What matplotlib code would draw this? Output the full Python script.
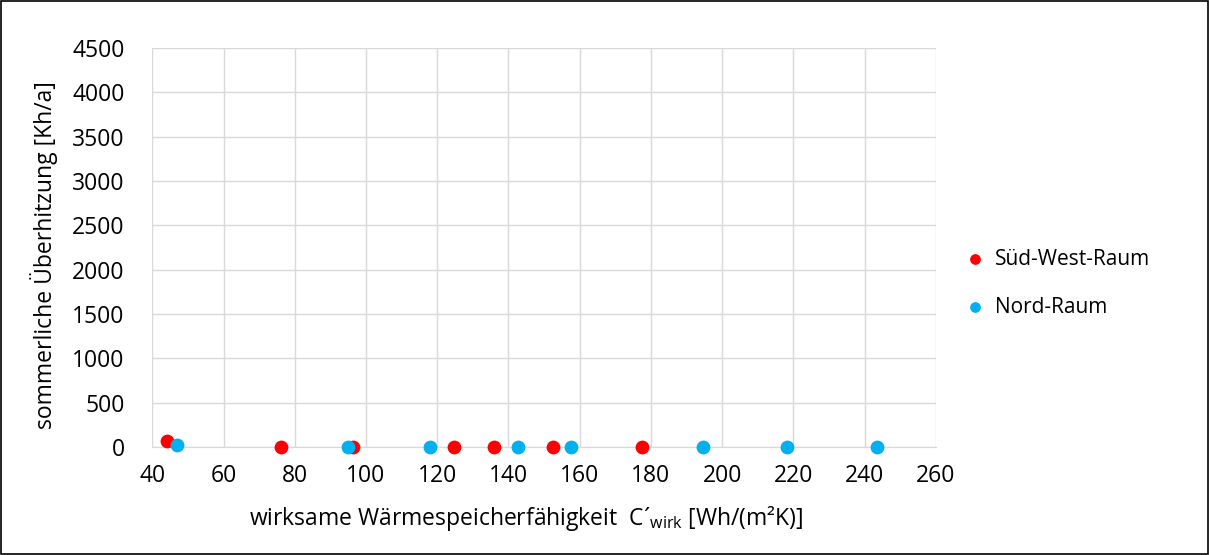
import matplotlib.pyplot as plt
from matplotlib import ticker

plt.rcParams['font.family'] = ['Open Sans', 'DejaVu Sans']
plt.rcParams['mathtext.fontset'] = 'custom'
plt.rcParams['mathtext.rm'] = 'Open Sans'

# Süd-West-Raum
sw_x = [44, 76, 96.3, 124.8, 136, 152.6, 177.6]
sw_y = [70, 0, 0, 0, 0, 0, 0]

# Nord-Raum
nord_x = [47, 95, 118, 142.6, 157.7, 194.7, 218.3, 243.4]
nord_y = [20, 0, 0, 0, 0, 0, 0, 0]

fig = plt.figure(figsize=(12.09, 5.55), dpi=100)
ax = fig.add_axes([0.126, 0.1946, 0.648, 0.719])

ax.scatter(sw_x, sw_y, s=80, color="#FF0000", label="Süd-West-Raum", zorder=3, clip_on=False)
ax.scatter(nord_x, nord_y, s=80, color="#00B0F0", label="Nord-Raum", zorder=3, clip_on=False)

ax.set_xlim(40, 260)
ax.set_ylim(0, 4500)
ax.xaxis.set_major_locator(ticker.MultipleLocator(20))
ax.yaxis.set_major_locator(ticker.MultipleLocator(500))
ax.grid(color="#D9D9D9", linewidth=1.0)
ax.set_axisbelow(True)
for s in ["top", "right", "left"]:
    ax.spines[s].set_visible(False)
ax.spines["bottom"].set_color("#D9D9D9")
ax.tick_params(length=0, labelsize=16.5, colors="#000000")
ax.tick_params(axis="y", pad=20)
ax.tick_params(axis="x", pad=12)

ax.set_ylabel("sommerliche Überhitzung [Kh/a]", fontsize=16.5, ha="center", va="center")
ax.yaxis.set_label_coords(-0.138, 0.482)
ax.set_xlabel("wirksame Wärmespeicherfähigkeit  C´$_{\\mathregular{wirk}}$ [Wh/(m²K)]",
              fontsize=16.5, ha="center", va="center")
ax.xaxis.set_label_coords(0.477, -0.18)

ax.legend(loc="center left", bbox_to_anchor=(1.037, 0.41), frameon=False, fontsize=15,
          borderaxespad=0, borderpad=0, handlelength=1.0, handletextpad=0.45,
          labelspacing=1.3, markerscale=0.75)

fig.patches.append(plt.Rectangle((0.001, 0.002), 0.998, 0.996, transform=fig.transFigure,
                                 fill=False, edgecolor="black", linewidth=1.2))

fig.savefig("out.png", dpi=100)
